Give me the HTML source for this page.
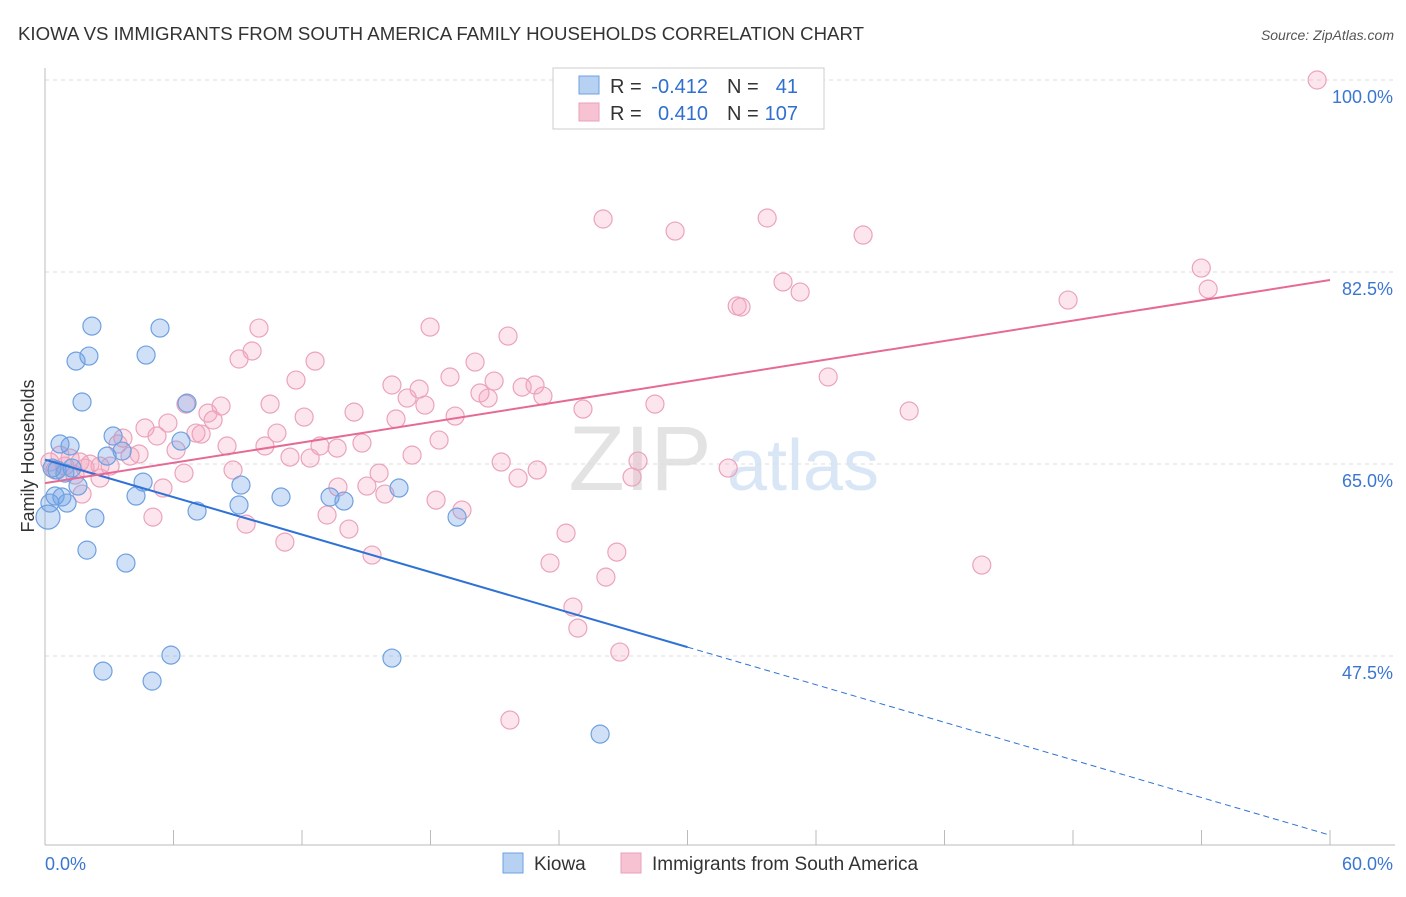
<!DOCTYPE html>
<html><head><meta charset="utf-8"><style>
body{margin:0;background:#fff;font-family:"Liberation Sans",sans-serif;}
svg text{font-family:"Liberation Sans",sans-serif;}
</style></head><body>
<svg width="1406" height="892" xmlns="http://www.w3.org/2000/svg">
<text x="18" y="40" font-size="18" fill="#333" textLength="846" lengthAdjust="spacingAndGlyphs">KIOWA VS IMMIGRANTS FROM SOUTH AMERICA FAMILY HOUSEHOLDS CORRELATION CHART</text>
<text x="1394" y="40" font-size="14" fill="#555" font-style="italic" text-anchor="end">Source: ZipAtlas.com</text>
<text x="34" y="456" font-size="18" fill="#333" text-anchor="middle" transform="rotate(-90 34 456)">Family Households</text>
<g><text x="640" y="490" font-size="92" fill="#ddd" text-anchor="middle" font-family="Liberation Serif" opacity="0.8">ZIP</text><text x="803" y="490" font-size="72" fill="#cfe0f4" text-anchor="middle" opacity="0.8">atlas</text></g>
<g id="grid"></g><g id="axes"></g><g id="pts"></g><g id="trend"></g>
<g>
<rect x="553" y="68" width="271" height="61" fill="#fff" stroke="#ccc"/>
<rect x="579" y="76" width="20" height="18" fill="#b7d1f3" stroke="#6fa0e0"/>
<rect x="579" y="103" width="20" height="18" fill="#f7c3d3" stroke="#e8a0b8"/>
<text x="610" y="93" font-size="20" fill="#333">R =</text>
<text x="708" y="93" font-size="20" fill="#2f6fd0" text-anchor="end">-0.412</text>
<text x="727" y="93" font-size="20" fill="#333">N =</text>
<text x="798" y="93" font-size="20" fill="#2f6fd0" text-anchor="end">41</text>
<text x="610" y="120" font-size="20" fill="#333">R =</text>
<text x="708" y="120" font-size="20" fill="#2f6fd0" text-anchor="end">0.410</text>
<text x="727" y="120" font-size="20" fill="#333">N =</text>
<text x="798" y="120" font-size="20" fill="#2f6fd0" text-anchor="end">107</text>
</g>
<g>
<rect x="503" y="853" width="20" height="20" fill="#b7d1f3" stroke="#6fa0e0"/>
<text x="534" y="870" font-size="19" fill="#333">Kiowa</text>
<rect x="621" y="853" width="20" height="20" fill="#f7c3d3" stroke="#e8a0b8"/>
<text x="652" y="870" font-size="19" fill="#333">Immigrants from South America</text>
</g>
</svg>
<script>
const xTicks=[0,6,12,18,24,30,36,42,48,54,60];
const yTicks=[47.5,65.0,82.5,100.0];
const yTickLabels=["47.5%","65.0%","82.5%","100.0%"];
const blueX=[0.14,0.23,0.47,0.56,0.70,0.79,1.03,1.17,1.26,1.45,1.54,1.73,1.96,2.05,2.19,2.33,2.71,3.18,2.90,3.60,3.78,4.25,4.58,4.72,5.00,5.37,5.88,6.35,6.63,7.10,9.06,9.15,11.02,13.31,13.96,16.20,16.53,19.24,25.92,0.93,0.33];
const blueY=[60.16,61.44,62.08,64.45,66.82,61.99,61.44,66.64,64.63,74.38,62.99,70.65,57.15,74.84,77.57,60.07,46.12,67.55,65.72,66.18,55.97,62.08,63.35,74.93,45.21,77.39,47.58,67.09,70.55,60.71,61.26,63.08,61.99,61.99,61.62,47.31,62.81,60.16,40.38,64.17,64.63];
const pinkX=[27.32,59.40,26.06,29.42,33.72,38.20,53.99,54.31,34.46,35.26,32.32,32.50,47.77,9.99,17.98,21.62,9.67,9.06,12.61,20.08,36.57,11.72,16.20,18.91,20.97,17.47,16.91,20.31,20.69,22.28,22.88,23.25,17.74,19.15,25.12,28.48,40.35,6.58,8.22,7.61,7.85,12.10,14.43,16.39,10.51,5.74,4.67,5.23,7.05,7.29,10.83,3.64,3.41,8.50,10.27,12.84,13.64,14.80,18.40,6.12,4.39,3.97,11.44,12.38,17.14,0.70,1.17,1.63,2.10,2.57,3.04,0.23,0.47,1.87,0.93,1.40,2.57,8.78,6.49,21.30,22.98,27.69,31.90,15.60,22.09,27.41,13.68,15.03,15.87,5.51,1.73,18.26,19.47,13.17,5.04,9.39,14.19,24.33,11.20,26.70,15.27,23.58,43.74,26.19,24.65,24.88,26.84,21.71];
const pinkY=[100,100,87.33,86.23,87.42,85.87,82.86,80.94,81.59,80.67,79.40,79.31,79.94,77.39,77.48,76.66,75.30,74.57,74.38,74.29,72.93,72.65,72.20,72.93,72.56,71.83,71.01,71.47,71.01,72.01,72.20,71.19,70.37,69.37,70.01,70.46,69.83,70.46,70.28,69.64,69.01,69.28,69.73,69.10,70.46,68.73,68.28,67.55,67.82,67.73,67.82,67.36,66.82,66.64,66.64,66.64,66.45,66.91,67.18,66.27,65.91,65.72,65.63,65.54,65.81,65.81,65.54,65.18,64.99,64.81,64.81,65.18,64.45,64.63,64.81,63.99,63.72,64.45,64.17,65.18,64.45,65.27,64.63,64.17,63.72,63.81,62.90,62.99,62.26,62.81,62.26,61.71,60.80,60.35,60.16,59.52,59.07,58.70,57.88,56.97,56.70,55.97,55.79,54.69,51.96,50.04,47.86,41.66];
const blueTrend=[[0,65.4],[30,48.31],[60,31.17]];
const pinkTrend=[[0,63.26],[60,81.77]];
const X=v=>45+v*(1285/60);
const Y=v=>80+(100-v)*(192/17.5);
const NS="http://www.w3.org/2000/svg";
function mk(p,t,a){const e=document.createElementNS(NS,t);for(const k in a)e.setAttribute(k,a[k]);document.getElementById(p).appendChild(e);return e;}
yTicks.forEach((t,i)=>{
 const g=mk('grid','line',{x1:45,x2:1395,y1:Y(t),y2:Y(t),stroke:'#ddd','stroke-dasharray':'4 4'});
 
 
 const l=mk('axes','text',{x:1393,y:Y(t)+23,'font-size':18,fill:'#3a76d0','text-anchor':'end'});
 l.textContent=yTickLabels[i];
 
 
});
const ax=mk('axes','line',{x1:45,x2:1395,y1:845,y2:845,stroke:'#bbb'});


const ay=mk('axes','line',{x1:45,x2:45,y1:68,y2:845,stroke:'#bbb'});


xTicks.forEach(t=>{
 const k=mk('axes','line',{x1:X(t),x2:X(t),y1:830,y2:845,stroke:'#bbb'});
 
 
});
[[0,"0.0%",'start',45],[60,"60.0%",'end',1393]].forEach(a=>{
 const l=mk('axes','text',{x:a[3],y:870,'font-size':18,fill:'#3a76d0','text-anchor':a[2]});
 l.textContent=a[1];
 
 
});
pinkX.forEach((x,i)=>{
 const c=mk('pts','circle',{cx:X(x),cy:Y(pinkY[i]),r:9,fill:'rgba(244,160,190,0.28)',stroke:'#eba3bb','stroke-width':1.2});
 
 
});
blueX.forEach((x,i)=>{
 const c=mk('pts','circle',{cx:X(x),cy:Y(blueY[i]),r:i==0?12:9,fill:'rgba(110,160,230,0.33)',stroke:'#6fa0e0','stroke-width':1.2});
 
 
});
const b1=mk('trend','line',{x1:X(blueTrend[0][0]),y1:Y(blueTrend[0][1]),x2:X(blueTrend[1][0]),y2:Y(blueTrend[1][1]),stroke:'#2f72d6','stroke-width':2});


const b2=mk('trend','line',{x1:X(blueTrend[1][0]),y1:Y(blueTrend[1][1]),x2:X(blueTrend[2][0]),y2:Y(blueTrend[2][1]),stroke:'#2f72d6','stroke-width':1,'stroke-dasharray':'6 4'});


const p1=mk('trend','line',{x1:X(pinkTrend[0][0]),y1:Y(pinkTrend[0][1]),x2:X(pinkTrend[1][0]),y2:Y(pinkTrend[1][1]),stroke:'#e56a95','stroke-width':2});


</script>
</body></html>
